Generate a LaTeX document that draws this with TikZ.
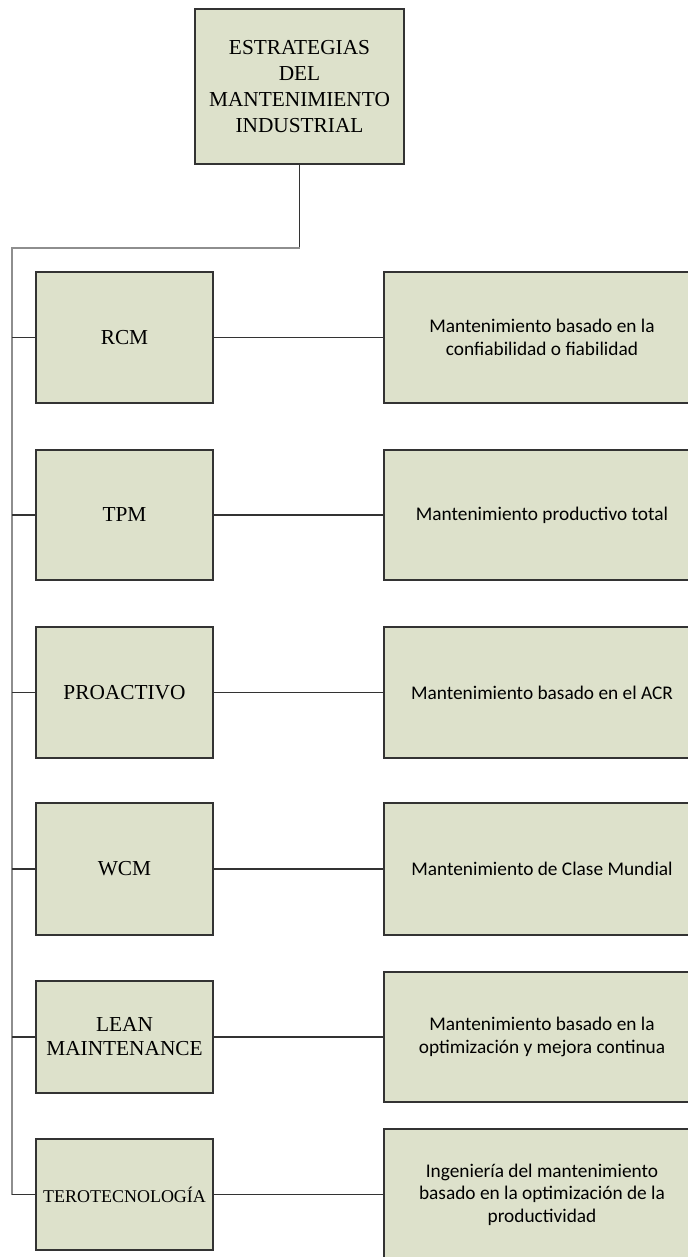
\documentclass[tikz,border=0pt]{standalone}
\usepackage{fontspec}
\setmainfont{Liberation Serif}
\newfontfamily\notefont{Carlito}

\definecolor{boxfill}{HTML}{DDE1CB}
\definecolor{boxline}{HTML}{333333}
\definecolor{spineline}{HTML}{8E8E8E}

\tikzset{every picture/.style={line width=0.75pt}}
\tikzset{
  stratbox/.style={draw=boxline, fill=boxfill, line width=1.6, inner sep=0.75pt, align=center,
    minimum width=132.75pt, font=\fontsize{16}{18}\selectfont},
  headbox/.style={stratbox, minimum width=156.75pt, minimum height=116.25pt,
    font=\fontsize{16}{19.5}\selectfont},
  notebox/.style={draw=boxline, fill=boxfill, line width=1.6, inner sep=0.75pt, align=center,
    minimum width=237pt, font=\notefont\fontsize{14.5}{16.8}\selectfont},
  link/.style={draw=boxline, line width=1.3},
  spine/.style={draw=spineline, line width=1.8},
}

\begin{document}
\begin{tikzpicture}[x=0.75pt,y=0.75pt,yscale=-1,xscale=1]
\useasboundingbox (0,0) rectangle (687,1257);

%Shape: Rectangle [head]
\node [headbox] (head) at (299.5,86.5) {ESTRATEGIAS\\DEL\\MANTENIMIENTO\\INDUSTRIAL};

%Shape: Rectangle [strategies]
\node [stratbox, minimum height=98.25pt] (rcm) at (124.5,337.5) {RCM};
\node [stratbox, minimum height=97.5pt] (tpm) at (124.5,515) {TPM};
\node [stratbox, minimum height=98.25pt] (proactivo) at (124.5,692.5) {PROACTIVO};
\node [stratbox, minimum height=99pt] (wcm) at (124.5,869) {WCM};
\node [stratbox, minimum height=84pt] (lean) at (124.5,1037) {LEAN\\MAINTENANCE};
\node [stratbox, minimum height=83.25pt, font=\fontsize{13.5}{16}\selectfont] (tero) at (124.5,1194.5) {TEROTECNOLOGÍA};

%Shape: Rectangle [notes]
\node [notebox, minimum height=98.25pt] (rcmnote) at (542,337.5) {Mantenimiento basado en la\\confiabilidad o fiabilidad};
\node [notebox, minimum height=97.5pt] (tpmnote) at (542,515) {Mantenimiento productivo total};
\node [notebox, minimum height=98.25pt] (proactivonote) at (542,692.5) {Mantenimiento basado en el ACR};
\node [notebox, minimum height=99pt] (wcmnote) at (542,869) {Mantenimiento de Clase Mundial};
\node [notebox, minimum height=97.5pt] (leannote) at (542,1037) {Mantenimiento basado en la\\optimización y mejora continua};
\node [notebox, minimum height=98.25pt] (teronote) at (542,1194.5) {Ingeniería del mantenimiento\\basado en la optimización de la\\productividad};

%Straight Lines [spine]
\coordinate (spinetop) at (12,248);
\draw [link] (head.south) -- (head.south |- spinetop);
\draw [spine] (head.south |- spinetop) -- (spinetop) -- (spinetop |- tero.west);

%Straight Lines [ticks and links]
\foreach \n in {rcm,tpm,proactivo,wcm,lean,tero}{
  \draw [link] (spinetop |- \n.west) -- (\n.west);
  \draw [link] (\n.east) -- (\n.east -| \n note.west);
}

\end{tikzpicture}
\end{document}
